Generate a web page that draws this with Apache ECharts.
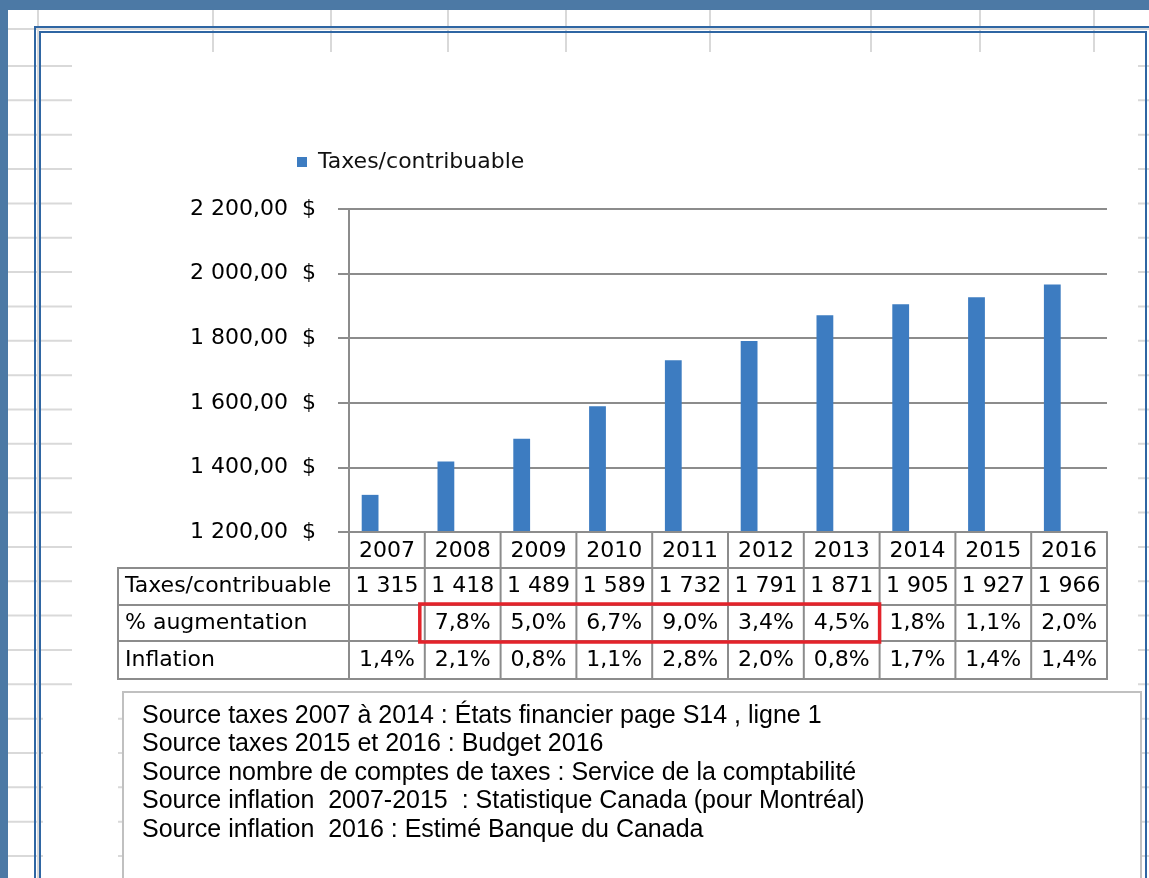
<!DOCTYPE html>
<html><head><meta charset="utf-8">
<script src="https://cdn.jsdelivr.net/npm/echarts@6/dist/echarts.min.js"></script>
<style>html,body{margin:0;padding:0;background:#fff}#c{width:1149px;height:878px}</style>
</head><body><div id="c"></div><script>
// ---- data ----
const years = ['2007','2008','2009','2010','2011','2012','2013','2014','2015','2016'];
const taxes = [1315,1418,1489,1589,1732,1791,1871,1905,1927,1966];
const augmentation = [null,7.8,5.0,6.7,9.0,3.4,4.5,1.8,1.1,2.0];
const inflation = [1.4,2.1,0.8,1.1,2.8,2.0,0.8,1.7,1.4,1.4];
const rowLabels = ['Taxes/contribuable','% augmentation','Inflation'];
const yMin = 1200, yMax = 2200, yStep = 200;
const highlightFrom = '2008', highlightTo = '2013';
const notes = [
  'Source taxes 2007 à 2014 : États financier page S14 , ligne 1',
  'Source taxes 2015 et 2016 : Budget 2016',
  'Source nombre de comptes de taxes : Service de la comptabilité',
  'Source inflation  2007-2015  : Statistique Canada (pour Montréal)',
  'Source inflation  2016 : Estimé Banque du Canada'
];

const FONT = 'DejaVu Sans';
const GRAY = '#8c8c8c';
function thousands(v){ return String(v).replace(/\B(?=(\d{3})+(?!\d))/g,' '); }
function money(v){ return thousands(v) + ',00  $'; }
function pct(v){ return v == null ? '' : v.toFixed(1).replace('.',',') + '%'; }

const chart = echarts.init(document.getElementById('c'), null, {renderer:'canvas'});
const option = {
  animation:false,
  backgroundColor:'transparent',
  textStyle:{fontFamily:FONT},
  legend:{data:['Taxes/contribuable'], left:292, top:146, icon:'rect', itemWidth:10, itemHeight:10,
    selectedMode:false, textStyle:{fontSize:22, color:'#111', fontFamily:FONT, padding:[0,0,0,6]}},
  grid:{left:349, right:42, top:209, bottom:346, outerBoundsMode:'none', containLabel:false},
  xAxis:{type:'category', data:years,
    axisLine:{show:true, lineStyle:{color:GRAY, width:2}}, axisTick:{show:false},
    axisLabel:{fontSize:22, color:'#000', fontFamily:FONT, margin:8, interval:0}},
  yAxis:{type:'value', min:yMin, max:yMax, interval:yStep,
    axisLine:{show:true, lineStyle:{color:GRAY, width:2}},
    axisTick:{show:true, length:11, lineStyle:{color:GRAY, width:2}},
    splitLine:{show:true, lineStyle:{color:GRAY, width:2}},
    axisLabel:{fontSize:22, color:'#000', fontFamily:FONT, margin:33, formatter:money}},
  series:[
    {name:'Taxes/contribuable', type:'bar', data:taxes, barWidth:16.8, barGap:'0%', itemStyle:{color:'#3d7cc1'}, z:3},
    {name:'% augmentation', type:'bar', data:augmentation.map(v=>v==null?'-':v/100), barWidth:16.8, barGap:'0%', itemStyle:{opacity:0}, silent:true},
    {name:'Inflation', type:'bar', data:inflation.map(v=>v/100), barWidth:16.8, barGap:'0%', itemStyle:{opacity:0}, silent:true}
  ]
};
chart.setOption(option);

// ---- layout derived from the library's scales ----
const cx = years.map((y,i)=>chart.convertToPixel({xAxisIndex:0}, i));
const band = cx[1]-cx[0];
const bound = i => cx[0] - band/2 + i*band;   // left boundary of column i
const y0 = chart.convertToPixel({yAxisIndex:0}, yMin);
const rowY = [0,36,73,109,147].map(d=>y0+d);
const labelLeft = 118;
const right = bound(years.length);

const g = [];
const line = (x1,y1,x2,y2,stroke,w,z)=>g.push({type:'line', z:z, silent:true, shape:{x1,y1,x2,y2}, style:{stroke, lineWidth:w}});
const rect = (x,y,w,h,style,z)=>g.push({type:'rect', z:z, silent:true, shape:{x,y,width:w,height:h}, style});
const text = (x,y,t,font,align,z)=>g.push({type:'text', z:z, silent:true, x, y,
  style:{text:t, font, fill:'#000', textAlign:align, align:align, textVerticalAlign:'middle', verticalAlign:'middle'}});

// spreadsheet background
rect(0,0,1149,878,{fill:'#4c79a5'},-20);
rect(8,10,1141,868,{fill:'#ffffff'},-19);
const sheetCols = [38,213,331,448,566,710,871,980,1094];
sheetCols.forEach(x=>line(x,10,x,878,'#d9d9d9',2,-18));
line(8,29,1149,29,'#d9d9d9',2,-18);
for(let k=0;k<25;k++){ const y=66+34.35*k; line(8,y,1149,y,'#d9d9d9',2,-18); }
rect(72,52,1066,648,{fill:'#ffffff'},-17);
rect(43,700,75,178,{fill:'#ffffff'},-17);
rect(35,27,1200,900,{fill:'none', stroke:'#2f66a3', lineWidth:2},-16);
rect(40,32,1106,900,{fill:'none', stroke:'#2f66a3', lineWidth:2},-16);

// data table
const TF = '22px "DejaVu Sans"';
line(bound(0), y0, bound(0), rowY[4], GRAY, 2, 5);
for(let i=1;i<=years.length;i++) line(bound(i), y0, bound(i), rowY[4], GRAY, 2, 5);
line(labelLeft, rowY[1], labelLeft, rowY[4], GRAY, 2, 5);
line(bound(0), rowY[0], right, rowY[0], GRAY, 2, 5);
for(let r=1;r<=4;r++) line(labelLeft-1, rowY[r], right+1, rowY[r], GRAY, 2, 5);
rowLabels.forEach((l,r)=>text(labelLeft+7, (rowY[r+1]+rowY[r+2])/2, l, TF, 'left', 6));
years.forEach((y,i)=>{
  text(cx[i], (rowY[1]+rowY[2])/2, thousands(taxes[i]), TF, 'center', 6);
  text(cx[i], (rowY[2]+rowY[3])/2, pct(augmentation[i]), TF, 'center', 6);
  text(cx[i], (rowY[3]+rowY[4])/2, pct(inflation[i]), TF, 'center', 6);
});
// red highlight box
const hi0 = years.indexOf(highlightFrom), hi1 = years.indexOf(highlightTo);
rect(bound(hi0)-5, rowY[2]-1, bound(hi1+1)-bound(hi0)+5, rowY[3]-rowY[2]+2, {fill:'none', stroke:'#e3232b', lineWidth:3.5}, 7);

// notes text box
rect(123,692,1018,200,{fill:'#ffffff', stroke:'#c0c0c0', lineWidth:2},-15);
const NF = '25px "Liberation Sans Narrow", "Liberation Sans"';
notes.forEach((n,i)=>text(142, 716+28.5*i, n, NF, 'left', 6));

chart.setOption({graphic:{elements:g}});
</script></body></html>
